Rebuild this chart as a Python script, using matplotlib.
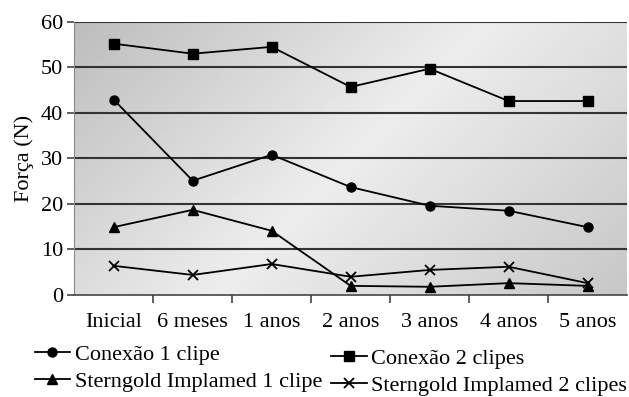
import numpy as np
import matplotlib.pyplot as plt

plt.rcParams['font.family'] = ['Liberation Serif', 'DejaVu Serif']

categorias = ['Inicial', '6 meses', '1 anos', '2 anos', '3 anos', '4 anos', '5 anos']
conexao_1 = [42.9, 25.1, 30.8, 23.7, 19.6, 18.5, 14.9]
conexao_2 = [55.2, 53.0, 54.5, 45.7, 49.7, 42.6, 42.6]
sterngold_1 = [14.9, 18.7, 14.1, 2.0, 1.8, 2.6, 2.0]
sterngold_2 = [6.4, 4.4, 6.8, 4.0, 5.5, 6.2, 2.6]

fig = plt.figure(figsize=(6.29, 3.97), dpi=100)
ax = fig.add_axes([0.118, 0.257, 0.879, 0.688])

# fundo em degrade diagonal (escuro nos cantos, claro no meio)
px, py = np.meshgrid(np.linspace(0, 555, 300), np.linspace(0, 273, 150))
t = (px + py) / (555 + 273)
shade = np.where(t < 0.5, 0.74 + 0.19 * (t / 0.5), 0.93 - 0.15 * ((t - 0.5) / 0.5))
ax.imshow(shade, cmap='gray', vmin=0, vmax=1, extent=[-0.5, 6.5, 0, 60],
          origin='upper', aspect='auto', zorder=0)

x = np.arange(len(categorias))
kw = dict(color='black', lw=1.3, zorder=3)
l1, = ax.plot(x, conexao_1, marker='o', ms=6.5, label='Conexão 1 clipe', **kw)
l2, = ax.plot(x, conexao_2, marker='s', ms=6.5, label='Conexão 2 clipes', **kw)
l3, = ax.plot(x, sterngold_1, marker='^', ms=7, label='Sterngold Implamed 1 clipe', **kw)
l4, = ax.plot(x, sterngold_2, marker='x', ms=7, mew=1.3, label='Sterngold Implamed 2 clipes', **kw)

ax.set_xlim(-0.5, 6.5)
ax.set_ylim(0, 60)
ax.set_yticks(range(0, 61, 10))
for v in range(10, 61, 10):
    ax.axhline(v, color='#333333', lw=1.5, zorder=2)

ax.set_xticks(x)
ax.set_xticklabels(categorias, fontsize=16)
ax.set_xticks(np.arange(0.5, 6.5, 1), minor=True)
ax.tick_params(axis='x', which='major', length=0, pad=13)
ax.tick_params(axis='x', which='minor', length=6, direction='out', color='#444444', width=1.2)
ax.tick_params(axis='y', labelsize=16, length=5, color='#444444', width=1.2, pad=3)

for s in ['top', 'right']:
    ax.spines[s].set_visible(False)
ax.spines['left'].set_color('#888888')
ax.spines['bottom'].set_color('#444444')
ax.spines['bottom'].set_linewidth(1.2)

ax.set_ylabel('Força (N)', fontsize=16, labelpad=5)

leg_kw = dict(loc='center left', frameon=False, fontsize=16, handlelength=1.6,
              handletextpad=0.2, labelspacing=0.3, borderaxespad=0, borderpad=0)
fig.legend([l1, l3], [l1.get_label(), l3.get_label()],
           bbox_to_anchor=(0.055, 0.073), **leg_kw)
fig.legend([l2, l4], [l2.get_label(), l4.get_label()],
           bbox_to_anchor=(0.527, 0.063), **leg_kw)

fig.savefig('out.png', dpi=100)
